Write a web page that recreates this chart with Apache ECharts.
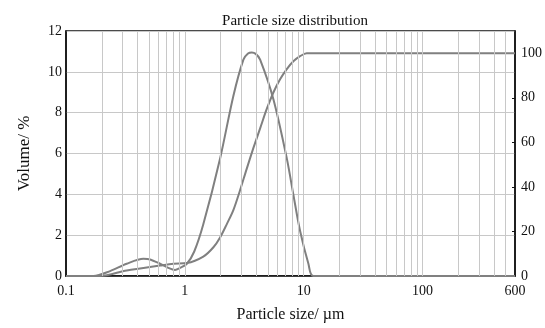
<!DOCTYPE html>
<html>
<head>
<meta charset="utf-8">
<script src="https://cdn.jsdelivr.net/npm/echarts@6/dist/echarts.min.js"></script>
<style>
html, body { margin: 0; padding: 0; background: #fff; }
#chart { width: 545px; height: 328px; }
</style>
</head>
<body>
<div id="chart"></div>
<script>
// particle size (µm) vs volume frequency (%)
const freqData = [
    [0.1, 0], [0.17, 0], [0.235, 0.24], [0.324, 0.6], [0.448, 0.84], [0.51, 0.81],
    [0.618, 0.6], [0.726, 0.4], [0.827, 0.3], [0.911, 0.4], [1.04, 0.6], [1.2, 1.2],
    [1.43, 2.53], [1.98, 5.76], [2.56, 8.82], [3.11, 10.6], [3.4, 10.9], [3.66, 10.95],
    [3.95, 10.88], [4.3, 10.6], [5.56, 8.66], [7.21, 5.76], [8.19, 3.98], [9.33, 2.2],
    [10.96, 0.6], [12.07, 0], [600, 0]
]
// particle size (µm) vs cumulative volume (%)
const cumData = [
    [0.1, 0], [0.193, 0], [0.324, 2.5], [0.618, 4.7], [0.8, 5.5], [1.04, 5.8], [1.43, 8.7],
    [1.74, 12.9], [1.98, 17.3], [2.25, 23.2], [2.56, 29.6], [2.91, 38.4], [3.31, 48],
    [3.77, 57.4], [4.3, 66.3], [4.89, 75], [5.56, 82.4], [6.33, 88.3], [7.21, 92.9],
    [8.19, 96.4], [9.33, 98.7], [10.6, 100], [600, 100]
]
// vertical log grid lines
const gridSizes = [
    0.2, 0.3, 0.4, 0.5, 0.6, 0.7, 0.8, 0.9,
    1, 2, 3, 4, 5, 6, 7, 8, 9,
    10, 20, 30, 40, 50, 60, 70, 80, 90,
    100, 200, 300, 400, 500
]

const font = 'Liberation Serif'
const lineColor = '#808080'
const chart = echarts.init(document.getElementById('chart'))

chart.setOption({
    animation: false,
    title: {
        text: 'Particle size distribution',
        left: 290,
        textAlign: 'center',
        top: 9,
        textStyle: { fontFamily: font, fontSize: 15, fontWeight: 'normal', color: '#111' }
    },
    grid: {
        left: 66, right: 30, top: 31, bottom: 49,
        show: true, borderColor: '#111', borderWidth: 1.5, backgroundColor: 'transparent'
    },
    xAxis: {
        type: 'log',
        logBase: 10,
        min: 0.1,
        max: 600,
        name: 'Particle size/ µm',
        nameLocation: 'middle',
        nameGap: 31,
        nameTextStyle: { fontFamily: font, fontSize: 16, color: '#111' },
        axisLine: { lineStyle: { color: '#111', width: 1.5 } },
        axisTick: { show: false },
        splitLine: { show: false },
        axisLabel: {
            fontFamily: font, fontSize: 14, color: '#111', margin: 8,
            formatter: v => String(+(+v).toPrecision(6))
        }
    },
    yAxis: [
        {
            type: 'value',
            min: 0, max: 12, interval: 2,
            name: 'Volume/ %',
            nameLocation: 'middle',
            nameGap: 33,
            nameTextStyle: { fontFamily: font, fontSize: 17, color: '#111' },
            axisLine: { show: true, lineStyle: { color: '#111', width: 1.5 } },
            axisTick: { show: false },
            axisLabel: { fontFamily: font, fontSize: 14, color: '#111', margin: 4 },
            splitLine: { lineStyle: { color: '#c8c8c8', width: 1 } }
        },
        {
            type: 'value',
            position: 'right',
            min: 0, max: 110, interval: 20,
            axisLine: { show: true, lineStyle: { color: '#111', width: 1.5 } },
            axisTick: { show: true, inside: true, length: 3, lineStyle: { color: '#111' } },
            axisLabel: { fontFamily: font, fontSize: 14, color: '#111', margin: 6, showMaxLabel: false },
            splitLine: { show: false }
        }
    ],
    series: [
        {
            type: 'line',
            data: [],
            z: 1,
            silent: true,
            markLine: {
                silent: true,
                symbol: ['none', 'none'],
                label: { show: false },
                lineStyle: { color: '#c8c8c8', type: 'solid', width: 1 },
                data: gridSizes.map(v => ({ xAxis: v }))
            }
        },
        {
            name: 'frequency',
            type: 'line',
            yAxisIndex: 0,
            z: 3,
            data: freqData,
            smooth: 0.3,
            showSymbol: false,
            lineStyle: { color: lineColor, width: 2 }
        },
        {
            name: 'cumulative',
            type: 'line',
            yAxisIndex: 1,
            z: 3,
            data: cumData,
            smooth: 0.3,
            showSymbol: false,
            lineStyle: { color: lineColor, width: 2 }
        }
    ]
})
</script>
</body>
</html>
